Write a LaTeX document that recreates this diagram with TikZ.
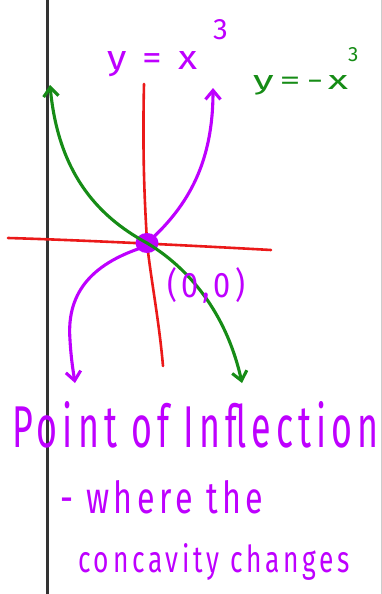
\documentclass[tikz,border=0pt]{standalone}
\usepackage{fontspec}
\setmainfont{Fira Sans}
\usepackage{graphicx}
\usetikzlibrary{arrows.meta}
\definecolor{pen}{RGB}{190,0,255}
\definecolor{grn}{RGB}{22,140,22}
\definecolor{rd}{RGB}{235,25,25}
\newcommand{\spc}{\addfontfeature{LetterSpace=14}}
\begin{document}
\begin{tikzpicture}[x=1pt,y=-1pt, line cap=round, line join=round,
  curve/.style={line width=3.1pt},
  barb/.tip={Straight Barb[length=9pt,width=15pt]},
  lbl/.style={inner sep=0pt, anchor=base west}]
\useasboundingbox (0,0) rectangle (382,594);
\fill[white] (0,0) rectangle (382,594);
\draw[line width=3pt, black!80] (47,0) -- (47,594);
\draw[line width=1pt, black!20] (381,0) -- (381,594);
% key points
\coordinate (O) at (147,243);
\coordinate (hl) at (8,238);
\coordinate (hr) at (271,250);
\coordinate (vt) at (144,84);
\coordinate (vb) at (163,366);
\coordinate (pr) at (213,88);
\coordinate (pl) at (75,383);
\coordinate (gt) at (50,85);
\coordinate (gb) at (242,383);
% axes
\draw[rd, line width=2.6pt] (hl) .. controls (80,240) and (200,246) .. (hr);
\draw[rd, line width=2.6pt] (vt) .. controls (142,170) and (146,220) .. (O) .. controls (151,280) and (159,320) .. (vb);
% y = x^3
\draw[pen, curve, -{barb}] (O) .. controls (190,205) and (213,160) .. (pr);
\draw[pen, curve, -{barb}] (147,246) .. controls (95,262) and (66,290) .. (70,340) .. controls (71,358) and (73,370) .. (pl);
\fill[pen] (O) ellipse [x radius=11.5, y radius=10];
% y = -x^3
\draw[grn, curve, {barb}-{barb}] (gt) .. controls (58,170) and (95,215) .. (O) .. controls (195,272) and (228,320) .. (gb);
% labels
\node[lbl, pen] (l1) at (107,70) {\resizebox{90pt}{18pt}{\spc y = x}};
\node[lbl, pen] (l1e) at (213,40) {\resizebox{!}{20pt}{3}};
\node[lbl, grn] (l2) at (253,89) {\resizebox{95pt}{14pt}{\spc y=-x}};
\node[lbl, grn] (l2e) at (348,62) {\resizebox{!}{14pt}{3}};
\node[lbl, pen] (org) at (167,297) {\resizebox{78pt}{30pt}{\spc (0,0)}};
\node[lbl, pen] (t1) at (12,447) {\resizebox{366pt}{46pt}{\spc Point of Inflection}};
\node[lbl, pen] (t2) at (60,513) {\resizebox{203pt}{33pt}{\spc - where the}};
\node[lbl, pen] (t3) at (78,572) {\resizebox{272pt}{29pt}{\spc concavity changes}};
\end{tikzpicture}
\end{document}
